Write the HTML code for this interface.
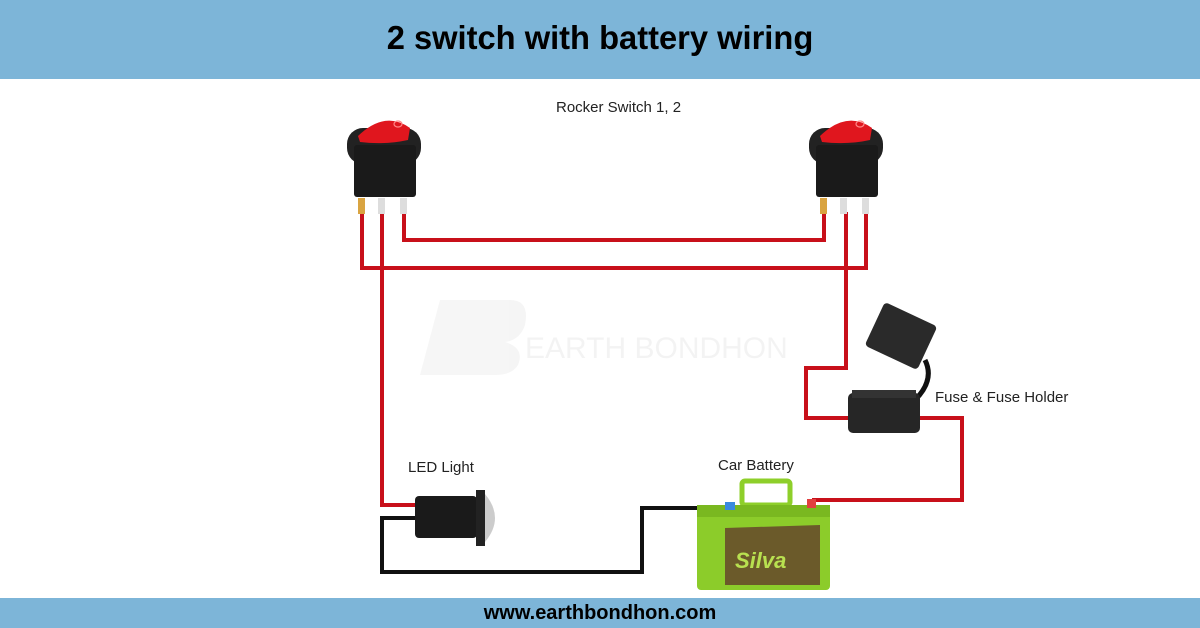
<!DOCTYPE html>
<html><head><meta charset="utf-8"><style>
html,body{margin:0;padding:0}
body{width:1200px;height:628px;position:relative;background:#fff;overflow:hidden;font-family:"Liberation Sans",sans-serif}
.hdr{position:absolute;left:0;top:0;width:1200px;height:79px;background:#7db5d8}
.hdr div{position:absolute;left:0;right:0;top:19px;text-align:center;font-weight:bold;font-size:33px;color:#000;transform:scaleX(0.99)}
.ftr{position:absolute;left:0;top:598px;width:1200px;height:30px;background:#7db5d8}
.ftr div{position:absolute;left:0;right:0;top:4px;text-align:center;font-weight:bold;font-size:20px;color:#000}
svg{position:absolute;left:0;top:0}
</style></head><body>
<div class="hdr"><div>2 switch with battery wiring</div></div>
<svg width="1200" height="628" viewBox="0 0 1200 628">
<g opacity="0.08">
<path d="M440 300 L510 300 Q530 300 525 325 Q520 340 505 342 Q525 348 518 365 Q512 375 495 375 L420 375 Z" fill="#888"/>
<text x="525" y="358" font-family="Liberation Sans" font-size="30" fill="#777">EARTH BONDHON</text>
</g>
<g fill="none" stroke="#c8101a" stroke-width="4" stroke-linejoin="miter">
<polyline points="404,212 404,240 824,240 824,212"/>
<polyline points="362,212 362,268 866,268 866,212"/>
<polyline points="382,212 382,505 420,505"/>
<polyline points="846,212 846,368 806,368 806,418 852,418"/>
<polyline points="918,418 962,418 962,500 812,500"/>
</g>
<g fill="none" stroke="#111" stroke-width="4">
<polyline points="420,518 382,518 382,572 642,572 642,508 730,508"/>
</g>
<g id="sw">
<rect x="347" y="128" width="74" height="36" rx="16" fill="#222"/>
<rect x="354" y="145" width="62" height="52" rx="3" fill="#1a1a1a"/>
<path d="M358 136 Q385 110 410 128 L408 140 Q385 145 360 142 Z" fill="#e0161e"/>
<ellipse cx="398" cy="124" rx="4" ry="3" fill="none" stroke="#f88" stroke-width="1.2"/>
<rect x="358" y="198" width="7" height="16" fill="#d9a441"/>
<rect x="378" y="198" width="7" height="16" fill="#ddd"/>
<rect x="400" y="198" width="7" height="16" fill="#ddd"/>
</g>
<use href="#sw" transform="translate(462,0)"/>
<rect x="872" y="312" width="58" height="48" rx="4" fill="#2a2a2a" transform="rotate(25 901 336)"/>
<path d="M925 360 Q935 380 915 400" stroke="#111" stroke-width="5" fill="none"/>
<rect x="848" y="393" width="72" height="40" rx="5" fill="#262626"/>
<rect x="852" y="390" width="64" height="8" fill="#333"/>
<rect x="415" y="496" width="62" height="42" rx="4" fill="#1a1a1a"/>
<path d="M476 490 L485 490 L485 546 L476 546 Z" fill="#222"/>
<path d="M485 494 Q505 518 485 542 Z" fill="#ccc"/>
<rect x="742" y="481" width="48" height="24" rx="3" fill="none" stroke="#8ecf2a" stroke-width="5"/>
<rect x="697" y="508" width="133" height="82" rx="4" fill="#8ccc2a"/>
<rect x="697" y="505" width="133" height="12" fill="#7ab820"/>
<rect x="725" y="502" width="10" height="8" fill="#3a8ae0"/>
<rect x="807" y="499" width="9" height="9" fill="#e04040"/>
<path d="M725 528 L820 525 L820 585 L725 585 Z" fill="#6b5a2a"/>
<text x="735" y="568" font-family="Liberation Sans" font-weight="bold" font-style="italic" font-size="22" fill="#b8e050">Silva</text>
<g font-family="Liberation Sans" font-size="15" fill="#222">
<text x="556" y="112">Rocker Switch 1, 2</text>
<text x="935" y="402">Fuse &amp; Fuse Holder</text>
<text x="408" y="472">LED Light</text>
<text x="718" y="470">Car Battery</text>
</g>
</svg>
<div class="ftr"><div>www.earthbondhon.com</div></div>
</body></html>
